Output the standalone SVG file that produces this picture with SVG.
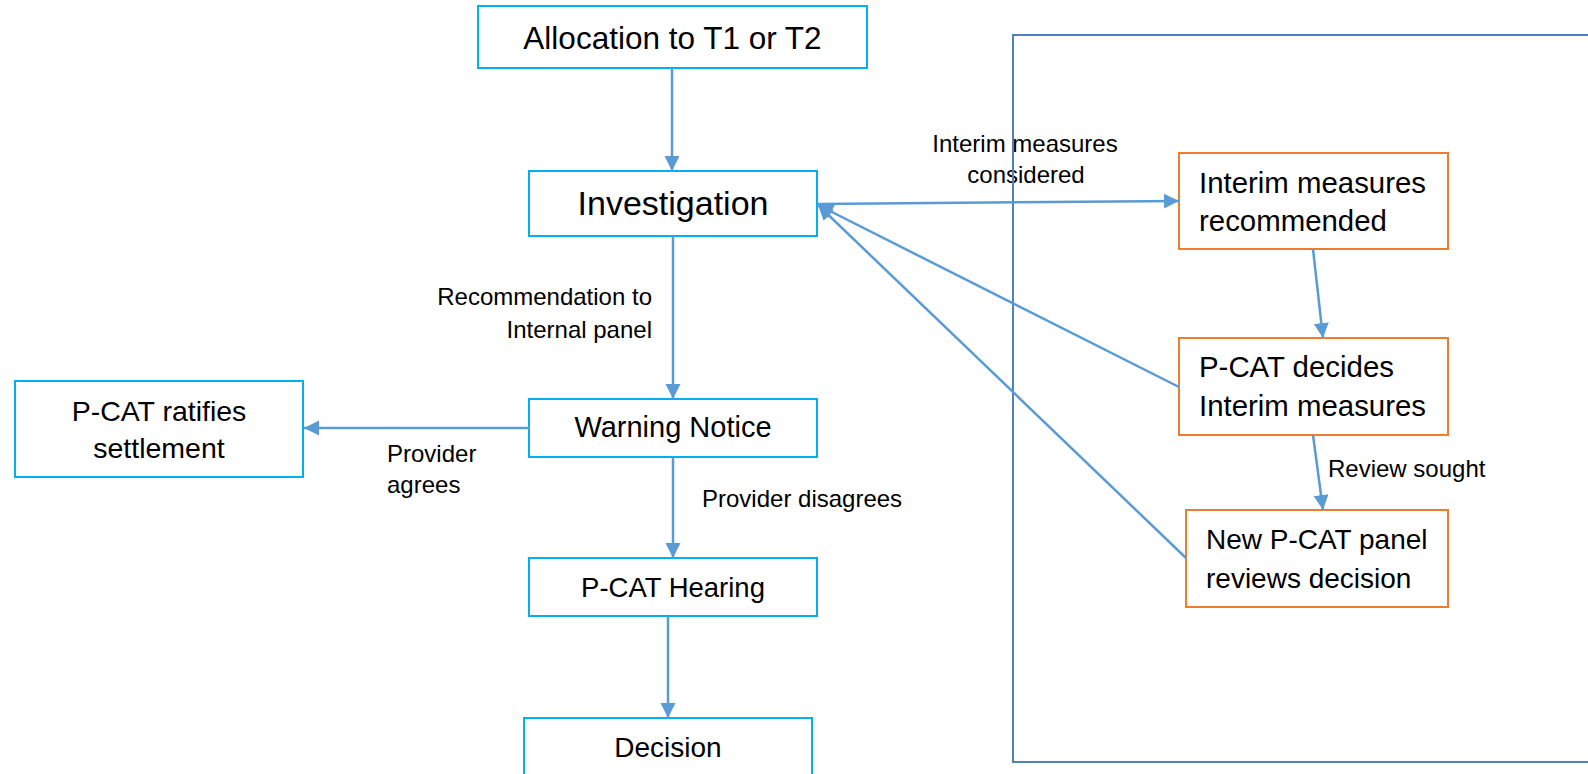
<svg xmlns="http://www.w3.org/2000/svg" width="1588" height="774" viewBox="0 0 1588 774">
<style>
  .bg { fill: #ffffff; }
  .nb { fill: #ffffff; stroke: #00b0f0; stroke-width: 2; }
  .no { fill: #ffffff; stroke: #ed7d31; stroke-width: 2; }
  .t { font-family: "Liberation Sans", Arial, sans-serif; fill: #000000; }
  .c { text-anchor: middle; }
  .lbl { font-family: "Liberation Sans", Arial, sans-serif; font-size: 24px; fill: #000000; }
  .conn { fill: none; stroke: #5b9bd5; stroke-width: 2.5; marker-end: url(#ah); }
  .frame { fill: none; stroke: #4f81bd; stroke-width: 2; }
</style>
<defs>
  <marker id="ah" markerUnits="userSpaceOnUse" markerWidth="16" markerHeight="16" refX="15" refY="7.5" orient="auto">
    <path d="M0,0 L15,7.5 L0,15 z" fill="#5b9bd5"/>
  </marker>
</defs>
<rect class="bg" x="0" y="0" width="1588" height="774"/>

<g id="nodes">
  <g id="n-allocation">
    <rect class="nb" x="478" y="6" width="389" height="62"/>
    <text class="t c" x="672.5" y="49" font-size="31.5">Allocation to T1 or T2</text>
  </g>
  <g id="n-investigation">
    <rect class="nb" x="529" y="171" width="288" height="65"/>
    <text class="t c" x="673" y="215" font-size="34">Investigation</text>
  </g>
  <g id="n-warning">
    <rect class="nb" x="529" y="399" width="288" height="58"/>
    <text class="t c" x="673" y="437" font-size="29">Warning Notice</text>
  </g>
  <g id="n-ratifies">
    <rect class="nb" x="15" y="381" width="288" height="96"/>
    <text class="t c" x="159" y="421" font-size="28.5">P-CAT ratifies</text>
    <text class="t c" x="159" y="458" font-size="28.5">settlement</text>
  </g>
  <g id="n-hearing">
    <rect class="nb" x="529" y="558" width="288" height="58"/>
    <text class="t c" x="673" y="597" font-size="27.5">P-CAT Hearing</text>
  </g>
  <g id="n-decision">
    <rect class="nb" x="524" y="718" width="288" height="70"/>
    <text class="t c" x="668" y="757" font-size="28">Decision</text>
  </g>
  <g id="n-interim-rec">
    <rect class="no" x="1179" y="153" width="269" height="96"/>
    <text class="t" x="1199" y="193" font-size="29.4">Interim measures</text>
    <text class="t" x="1199" y="231" font-size="29.4">recommended</text>
  </g>
  <g id="n-pcat-decides">
    <rect class="no" x="1179" y="338" width="269" height="97"/>
    <text class="t" x="1199" y="377" font-size="29.4">P-CAT decides</text>
    <text class="t" x="1199" y="416" font-size="29.4">Interim measures</text>
  </g>
  <g id="n-new-panel">
    <rect class="no" x="1186" y="510" width="262" height="97"/>
    <text class="t" x="1206" y="549" font-size="28">New P-CAT panel</text>
    <text class="t" x="1206" y="588" font-size="28">reviews decision</text>
  </g>
</g>

<g id="labels">
  <text class="lbl c" x="1025" y="152">Interim measures</text>
  <text class="lbl c" x="1026" y="183">considered</text>
  <text class="lbl" x="652" y="305" text-anchor="end">Recommendation to</text>
  <text class="lbl" x="652" y="338" text-anchor="end">Internal panel</text>
  <text class="lbl" x="387" y="462">Provider</text>
  <text class="lbl" x="387" y="493">agrees</text>
  <text class="lbl" x="702" y="507">Provider disagrees</text>
  <text class="lbl" x="1328" y="477">Review sought</text>
</g>

<g id="frame">
  <rect class="frame" x="1013" y="35" width="700" height="727"/>
</g>

<g id="connectors">
  <line class="conn" x1="672" y1="68" x2="672" y2="171"/>
  <line class="conn" x1="673" y1="236" x2="673" y2="399"/>
  <line class="conn" x1="673" y1="457" x2="673" y2="558"/>
  <line class="conn" x1="668" y1="616" x2="668" y2="718"/>
  <line class="conn" x1="529" y1="428" x2="304" y2="428"/>
  <line class="conn" x1="818" y1="204" x2="1179" y2="201"/>
  <line class="conn" x1="1313" y1="249" x2="1323" y2="338"/>
  <line class="conn" x1="1313" y1="435" x2="1323" y2="510"/>
  <line class="conn" x1="1179" y1="387" x2="818" y2="205"/>
  <line class="conn" x1="1186" y1="558" x2="818" y2="205"/>
</g>
</svg>
